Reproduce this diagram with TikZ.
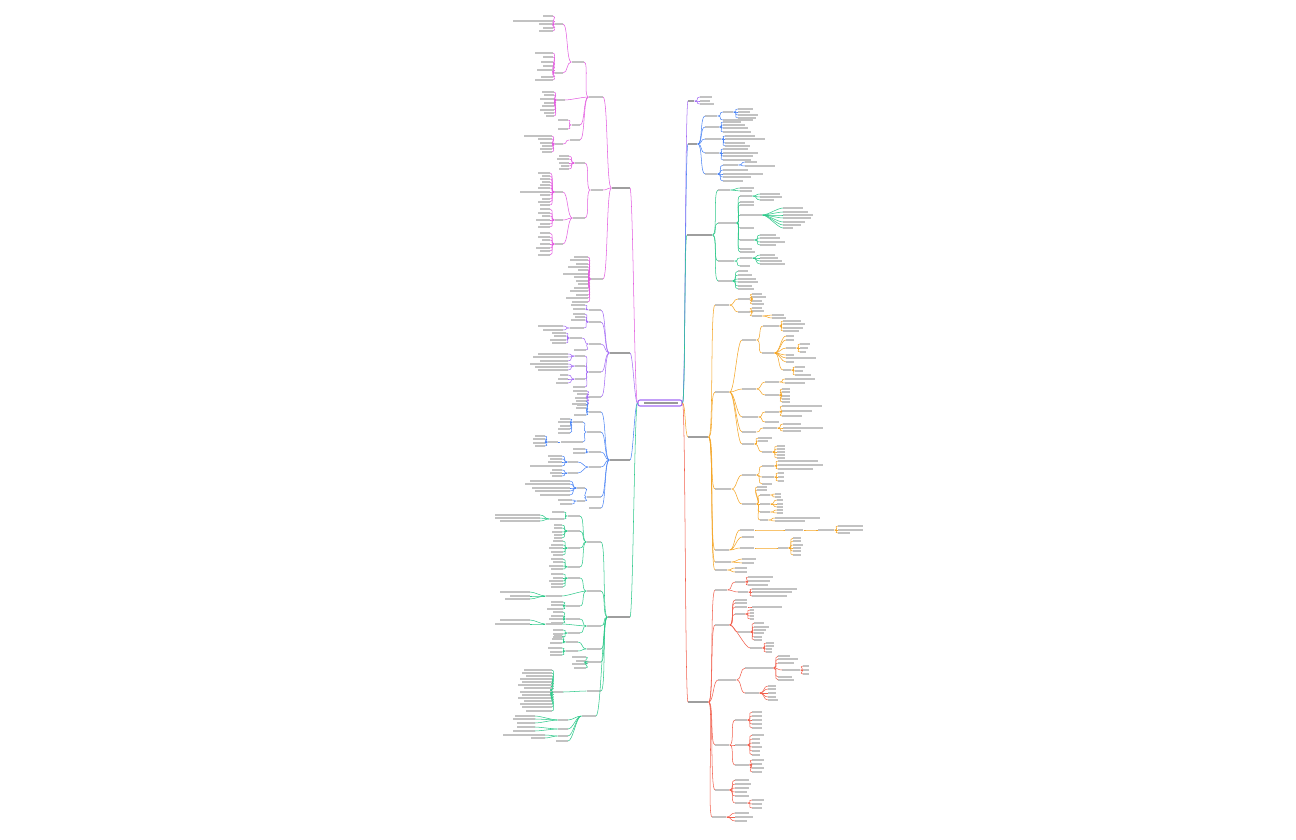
\documentclass[tikz,border=0pt]{standalone}
\usepackage{tikz}
\usetikzlibrary{calc}

\definecolor{pinkC}{HTML}{E35BE0}
\definecolor{violetC}{HTML}{A46BF5}
\definecolor{blueC}{HTML}{4A84F5}
\definecolor{greenC}{HTML}{2DC98A}
\definecolor{orangeC}{HTML}{F5A524}
\definecolor{redC}{HTML}{F2604E}

\tikzset{
  leafr/.style={fill=black!24, draw=none, inner sep=0pt, minimum height=0.26mm, anchor=west},
  leafl/.style={leafr, anchor=east},
  topr/.style={leafr, fill=black!38, minimum height=0.36mm},
  topl/.style={topr, anchor=east},
  link/.style={line width=0.3pt},
  brr/.style={to path={.. controls +(#1,0) and +(-#1,0) .. (\tikztotarget)}},
  brr/.default=5,
  brl/.style={to path={.. controls +(-#1,0) and +(#1,0) .. (\tikztotarget)}},
  brl/.default=5,
}

% 右侧：单个节点 / 一组叶子
\newcommand\rn[5]{%
  \node[leafr, minimum width=#5*0.2mm] (#1) at (#3,#4) {};
  \draw[link] (#2.east) to[brr] (#1.west);}
\newcommand\rtw[4]{%
  \foreach \yy/\ww in {#4}{%
    \node[leafr, minimum width=\ww*0.2mm] (#2\yy) at (#3,\yy) {};
    \draw[link] (#1.east) to[brr] (#2\yy.west);}}
% 左侧
\newcommand\lnn[5]{%
  \node[leafl, minimum width=#5*0.2mm] (#1) at (#3,#4) {};
  \draw[link] (#2.west) to[brl] (#1.east);}
\newcommand\ltw[4]{%
  \foreach \yy/\ww in {#4}{%
    \node[leafl, minimum width=\ww*0.2mm] (#2\yy) at (#3,\yy) {};
    \draw[link] (#1.west) to[brl] (#2\yy.east);}}

\begin{document}
\begin{tikzpicture}[x=0.2mm, y=-0.2mm]
  \path[fill=white, use as bounding box] (0,0) rectangle (1296,840);

  % 中心主题
  \node[draw=violetC, fill=white, line width=0.6pt, rounded corners=0.4mm,
        inner sep=0pt, minimum width=44*0.2mm, minimum height=6*0.2mm] (core) at (660,403) {};
  \node[leafr, fill=black!40, minimum width=34*0.2mm] (coretxt) at (644,403) {};

  %% ---------------- 右侧 ----------------
  \begin{scope}[draw=violetC]
    \node[topr, minimum width=6*0.2mm] (R1) at (688,101) {};
    \draw[link] (core.east) to[brr=3] (R1.west);
    \rtw{R1}{r1l}{700}{97/12,101/10,104/14}
  \end{scope}

  \begin{scope}[draw=blueC]
    \node[topr, minimum width=9*0.2mm] (R2) at (688,144) {};
    \draw[link] (core.east) to[brr=3] (R2.west);
    \rn{r2a}{R2}{705}{116}{12}
    \rn{r2a1}{r2a}{723}{112}{10}
    \rtw{r2a1}{r2ax}{738}{109/15,112/12,115/20,118/18}
    \rtw{r2a}{r2ay}{723}{120/30}
    \rn{r2b}{R2}{705}{127}{14}
    \rtw{r2b}{r2bl}{723}{122/18,125/22,128/25,132/28}
    \rn{r2c}{R2}{705}{139}{16}
    \rtw{r2c}{r2cl}{725}{136/30,139/40,143/20,146/25}
    \rn{r2d}{R2}{705}{153}{14}
    \rtw{r2d}{r2dl}{723}{149/25,153/35,156/30,160/28}
    \rn{r2e}{R2}{705}{174}{12}
    \rn{r2e1}{r2e}{723}{165}{15}
    \rtw{r2e1}{r2ex}{745}{162/12,166/30}
    \rtw{r2e}{r2el}{723}{170/25,174/40,177/28,181/20}
  \end{scope}

  \begin{scope}[draw=greenC]
    \node[topr, minimum width=25*0.2mm] (R3) at (687,235) {};
    \draw[link] (core.east) to[brr=3] (R3.west);
    \rn{r3a}{R3}{718}{190}{12}
    \rtw{r3a}{r3al}{740}{188/14,191/12}
    \rn{r3b}{R3}{718}{223}{18}
    \rn{r3b1}{r3b}{740}{196}{12}
    \rtw{r3b1}{r3bx}{760}{194/20,197/22,200/14}
    \rtw{r3b}{r3by}{740}{202/14,205/14,228/14,249/12,252/15}
    \rn{r3b2}{r3b}{740}{215}{22}
    \rtw{r3b2}{r3bz}{783}{208/20,212/25,215/30,218/28,222/22,225/18,228/10}
    \rn{r3b3}{r3b}{740}{240}{14}
    \rtw{r3b3}{r3bw}{760}{235/16,238/20,242/25,245/16}
    \rn{r3c}{R3}{718}{261}{16}
    \rn{r3c1}{r3c}{740}{258}{12}
    \rtw{r3c1}{r3cx}{760}{255/15,258/18,261/22,264/25}
    \rtw{r3c}{r3cy}{740}{266/10}
    \rn{r3d}{R3}{718}{281}{14}
    \rtw{r3d}{r3dl}{738}{271/10,275/14,279/18,282/20,286/14,289/16}
  \end{scope}

  \begin{scope}[draw=orangeC]
    \node[topr, minimum width=20*0.2mm] (R4) at (688,437) {};
    \draw[link] (core.east) to[brr=3] (R4.west);
    \rn{r4a}{R4}{715}{305}{14}
    \rn{r4a1}{r4a}{738}{299}{12}
    \rtw{r4a1}{r4ax}{752}{294/10,297/14,301/10,304/12}
    \rn{r4a2}{r4a}{738}{312}{12}
    \rtw{r4a2}{r4ay}{752}{308/10,311/12}
    \rn{r4a3}{r4a2}{752}{316}{10}
    \rtw{r4a3}{r4az}{772}{315/12,318/14}
    \rn{r4b}{R4}{715}{392}{14}
    \rn{r4b1}{r4b}{742}{340}{14}
    \rn{r4b1a}{r4b1}{763}{326}{16}
    \rtw{r4b1a}{r4bx}{783}{321/18,324/22,328/20,331/16}
    \rn{r4b1b}{r4b1}{762}{353}{12}
    \rtw{r4b1b}{r4by}{786}{336/8,340/8,355/8,358/30,362/8}
    \rn{r4b1c}{r4b1b}{786}{348}{10}
    \rtw{r4b1c}{r4bz}{800}{344/10,348/8,352/6}
    \rn{r4b1d}{r4b1b}{783}{370}{8}
    \rtw{r4b1d}{r4bw}{795}{367/10,371/8,375/16}
    \rn{r4b2}{r4b}{742}{389}{14}
    \rn{r4b2a}{r4b2}{765}{382}{14}
    \rtw{r4b2a}{r4cx}{785}{379/30,383/20}
    \rn{r4b2b}{r4b2}{765}{395}{14}
    \rtw{r4b2b}{r4cy}{782}{389/8,392/8,396/8,399/8,402/8}
    \rn{r4b3}{r4b}{742}{417}{16}
    \rn{r4b3a}{r4b3}{765}{412}{14}
    \rtw{r4b3a}{r4dx}{782}{406/40,411/30,416/20}
    \rtw{r4b3}{r4dy}{765}{422/14}
    \rn{r4b4}{r4b}{742}{432}{14}
    \rn{r4b4a}{r4b4}{763}{428}{14}
    \rtw{r4b4a}{r4ex}{783}{424/18,428/40,431/18}
    \rn{r4b5}{r4b}{742}{444}{12}
    \rtw{r4b5}{r4fx}{758}{438/14,441/10}
    \rn{r4b5a}{r4b5}{762}{452}{10}
    \rtw{r4b5a}{r4fy}{777}{446/8,449/8,452/8,455/8,458/8}
    \rn{r4c}{R4}{715}{489}{16}
    \rn{r4c1}{r4c}{742}{475}{14}
    \rn{r4c1a}{r4c1}{762}{466}{12}
    \rtw{r4c1a}{r4gx}{778}{461/40,465/45,469/35}
    \rn{r4c1b}{r4c1}{762}{477}{12}
    \rtw{r4c1b}{r4gy}{778}{473/6,477/6,481/6}
    \rtw{r4c1}{r4gz}{762}{484/10}
    \rn{r4c2}{r4c}{742}{504}{14}
    \rtw{r4c2}{r4hx}{757}{487/10,490/10}
    \rn{r4c2a}{r4c2}{760}{495}{10}
    \rtw{r4c2a}{r4hy}{775}{494/6,497/6}
    \rn{r4c2b}{r4c2}{760}{504}{10}
    \rtw{r4c2b}{r4hz}{777}{500/6,504/6,507/6}
    \rn{r4c2c}{r4c2}{760}{512}{10}
    \rtw{r4c2c}{r4hw}{777}{510/6,513/6}
    \rn{r4c2d}{r4c2}{760}{520}{8}
    \rtw{r4c2d}{r4hv}{775}{518/45,521/30}
    \rn{r4d}{R4}{715}{550}{14}
    \rn{r4d1}{r4d}{740}{530}{14}
    \rn{r4d1a}{r4d1}{785}{530}{18}
    \rn{r4d1b}{r4d1a}{818}{530}{16}
    \rtw{r4d1b}{r4ix}{838}{526/25,530/25,533/12}
    \rtw{r4d}{r4iy}{742}{537/12}
    \rn{r4d3}{r4d}{740}{548}{14}
    \rn{r4d3a}{r4d3}{778}{548}{10}
    \rtw{r4d3a}{r4iz}{793}{538/8,541/8,545/10,548/8,551/8,555/8}
    \rn{r4e}{R4}{715}{562}{16}
    \rtw{r4e}{r4jx}{742}{559/14,563/12}
    \rn{r4f}{R4}{715}{570}{12}
    \rtw{r4f}{r4jy}{735}{568/12,572/12}
  \end{scope}

  \begin{scope}[draw=redC]
    \node[topr, minimum width=20*0.2mm] (R5) at (688,702) {};
    \draw[link] (core.east) to[brr=3] (R5.west);
    \rn{r5a}{R5}{715}{590}{12}
    \rn{r5a1}{r5a}{735}{582}{10}
    \rtw{r5a1}{r5ax}{748}{577/25,581/22,585/20}
    \rn{r5a2}{r5a}{738}{592}{10}
    \rtw{r5a2}{r5ay}{752}{589/45,592/40,596/35}
    \rn{r5b}{R5}{715}{625}{14}
    \rtw{r5b}{r5bx}{735}{600/12,603/12}
    \rn{r5b1}{r5b}{735}{607}{12}
    \rtw{r5b1}{r5by}{752}{607/30}
    \rn{r5b2}{r5b}{735}{614}{10}
    \rtw{r5b2}{r5bz}{750}{610/4,613/4,616/4,619/4}
    \rn{r5b3}{r5b}{738}{632}{12}
    \rtw{r5b3}{r5bw}{754}{623/10,627/15,630/12,633/10,637/8,640/8}
    \rn{r5b4}{r5b}{750}{648}{12}
    \rtw{r5b4}{r5bv}{766}{643/8,646/8,649/6,652/6}
    \rn{r5c}{R5}{718}{680}{18}
    \rn{r5c1}{r5c}{745}{668}{28}
    \rtw{r5c1}{r5cx}{778}{656/12,659/20,663/16,677/14,680/16}
    \rn{r5c1a}{r5c1}{782}{670}{18}
    \rtw{r5c1a}{r5cy}{803}{666/6,670/6,674/6}
    \rn{r5c2}{r5c}{745}{693}{14}
    \rtw{r5c2}{r5cz}{768}{686/8,689/8,693/8,697/8,700/10}
    \rn{r5d}{R5}{715}{745}{14}
    \rn{r5d1}{r5d}{735}{720}{12}
    \rtw{r5d1}{r5dx}{752}{712/10,716/10,720/10,724/10,728/10}
    \rn{r5d2}{r5d}{735}{745}{12}
    \rtw{r5d2}{r5dy}{752}{735/12,739/8,743/8,747/10,751/8,755/8}
    \rn{r5d3}{r5d}{735}{765}{14}
    \rtw{r5d3}{r5dz}{752}{760/12,764/10,768/12,772/10}
    \rn{r5e}{R5}{715}{790}{14}
    \rtw{r5e}{r5ex}{735}{780/14,784/16,788/14,792/12,796/14}
    \rn{r5e1}{r5e}{735}{803}{12}
    \rtw{r5e1}{r5ey}{752}{800/12,804/10,808/10}
    \rn{r5f}{R5}{712}{817}{14}
    \rtw{r5f}{r5fx}{735}{813/14,817/18,821/12}
  \end{scope}

  %% ---------------- 左侧 ----------------
  \begin{scope}[draw=pinkC]
    \node[topl, minimum width=18*0.2mm] (L1) at (630,188) {};
    \draw[link] (core.west) to[brl=3] (L1.east);
    \lnn{l1a}{L1}{603}{97}{14}
    \lnn{l1a1}{l1a}{584}{62}{12}
    \lnn{l1a1a}{l1a1}{563}{24}{8}
    \ltw{l1a1a}{l1ax}{553}{16/10,21/40,24/14,28/10,31/14}
    \lnn{l1a1b}{l1a1}{563}{73}{8}
    \ltw{l1a1b}{l1ay}{553}{53/18,57/10,62/12,66/10,70/16,77/12,80/18}
    \lnn{l1a2}{l1a}{565}{100}{8}
    \ltw{l1a2}{l1az}{554}{92/12,95/10,99/14,103/10,106/12,110/14,113/10,116/8}
    \lnn{l1a3}{l1a}{580}{125}{8}
    \ltw{l1a3}{l1aw}{568}{120/10,129/10}
    \lnn{l1a4}{l1a}{580}{140}{10}
    \lnn{l1a4a}{l1a4}{563}{144}{8}
    \ltw{l1a4a}{l1av}{552}{136/28,139/14,143/12,146/10,149/12,152/10}
    \lnn{l1b}{L1}{603}{190}{12}
    \lnn{l1b1}{l1b}{585}{163}{10}
    \ltw{l1b1}{l1bx}{569}{156/10,159/12,163/10,166/8,169/10}
    \lnn{l1b2}{l1b}{585}{218}{12}
    \lnn{l1b2a}{l1b2}{563}{192}{8}
    \ltw{l1b2a}{l1by}{550}{173/12,176/8,179/10,182/8,185/10,188/12,192/30,195/10,199/8,202/12,205/10}
    \lnn{l1b2b}{l1b2}{563}{220}{8}
    \ltw{l1b2b}{l1bz}{550}{209/10,213/12,216/8,220/14,224/10,227/12}
    \lnn{l1b2c}{l1b2}{563}{244}{8}
    \ltw{l1b2c}{l1bw}{550}{233/10,237/12,240/8,244/10,248/14,251/10,255/12}
    \lnn{l1c}{L1}{603}{279}{12}
    \ltw{l1c}{l1cx}{588}{257/14,260/18,264/12,267/20,270/10,274/25,277/14,281/12,284/10,288/14,291/18,295/12,298/22,302/16}
  \end{scope}

  \begin{scope}[draw=violetC]
    \node[topl, minimum width=20*0.2mm] (L2) at (630,353) {};
    \draw[link] (core.west) to[brl=3] (L2.east);
    \lnn{l2a}{L2}{601}{310}{12}
    \ltw{l2a}{l2ax}{585}{305/14,309/12}
    \lnn{l2b}{L2}{601}{322}{12}
    \ltw{l2b}{l2bx}{585}{314/12,317/10,320/14}
    \lnn{l2b1}{l2b}{584}{328}{14}
    \ltw{l2b1}{l2by}{563}{326/25,330/20}
    \lnn{l2c}{L2}{601}{344}{12}
    \lnn{l2c1}{l2c}{582}{338}{12}
    \ltw{l2c1}{l2cx}{566}{333/14,336/12,340/16,343/14}
    \ltw{l2c}{l2cy}{586}{350/12}
    \lnn{l2d}{L2}{601}{372}{12}
    \lnn{l2d1}{l2d}{585}{356}{10}
    \ltw{l2d1}{l2dx}{568}{354/30,357/35,361/28}
    \lnn{l2d2}{l2d}{585}{366}{10}
    \ltw{l2d2}{l2dy}{568}{364/38,367/33,370/30}
    \lnn{l2d3}{l2d}{585}{379}{10}
    \ltw{l2d3}{l2dz}{568}{375/8,379/10,383/12}
    \ltw{l2d}{l2dw}{585}{387/12}
    \lnn{l2e}{L2}{601}{397}{12}
    \ltw{l2e}{l2ex}{587}{391/14,394/10,398/12,401/10,405/10}
  \end{scope}

  \begin{scope}[draw=blueC]
    \node[topl, minimum width=20*0.2mm] (L3) at (630,460) {};
    \draw[link] (core.west) to[brl=3] (L3.east);
    \lnn{l3a}{L3}{601}{412}{12}
    \ltw{l3a}{l3ax}{586}{401/10,404/14,408/10,415/12}
    \lnn{l3b}{L3}{601}{432}{14}
    \lnn{l3b1}{l3b}{583}{422}{10}
    \ltw{l3b1}{l3bx}{570}{419/10,422/12,426/10,429/12,433/12}
    \lnn{l3b2}{l3b}{583}{442}{22}
    \lnn{l3b2a}{l3b2}{558}{442}{10}
    \ltw{l3b2a}{l3by}{545}{436/10,439/12,443/12,446/10}
    \lnn{l3c}{L3}{601}{452}{12}
    \ltw{l3c}{l3cx}{585}{449/12,453/12}
    \lnn{l3d}{L3}{601}{467}{12}
    \lnn{l3d1}{l3d}{578}{462}{10}
    \ltw{l3d1}{l3dx}{562}{456/14,459/12,462/14,466/32}
    \lnn{l3d2}{l3d}{578}{473}{10}
    \ltw{l3d2}{l3dy}{562}{470/10,473/12,476/10}
    \lnn{l3e}{L3}{601}{497}{14}
    \lnn{l3e1}{l3e}{585}{488}{8}
    \ltw{l3e1}{l3ex}{570}{481/40,484/45,488/38,491/35,495/30}
    \lnn{l3e2}{l3e}{585}{501}{8}
    \ltw{l3e2}{l3ey}{572}{500/14,504/12}
    \lnn{l3f}{L3}{601}{508}{12}
  \end{scope}

  \begin{scope}[draw=greenC]
    \node[topl, minimum width=22*0.2mm] (L4) at (630,617) {};
    \draw[link] (core.west) to[brl=3] (L4.east);
    \lnn{l4a}{L4}{601}{542}{14}
    \lnn{l4a1}{l4a}{580}{516}{12}
    \ltw{l4a1}{l4ax}{564}{512/12}
    \lnn{l4a1b}{l4a1}{564}{519}{14}
    \ltw{l4a1b}{l4ay}{540}{515/45,518/45,521/40}
    \lnn{l4a2}{l4a}{580}{531}{12}
    \ltw{l4a2}{l4az}{562}{525/8,528/8,532/10,535/8,538/8}
    \lnn{l4a3}{l4a}{580}{548}{12}
    \ltw{l4a3}{l4aw}{563}{541/10,545/12,548/14,552/12,555/10}
    \lnn{l4a4}{l4a}{580}{567}{12}
    \ltw{l4a4}{l4av}{563}{559/12,562/10,566/14,569/12}
    \lnn{l4b}{L4}{601}{591}{14}
    \lnn{l4b1}{l4b}{580}{578}{12}
    \ltw{l4b1}{l4bx}{563}{574/12,578/10,581/14,584/12,587/12}
    \lnn{l4b3}{l4b}{562}{596}{16}
    \ltw{l4b3}{l4by}{530}{592/30,596/20,599/25}
    \lnn{l4b4}{l4b}{580}{606}{14}
    \ltw{l4b4}{l4bz}{563}{602/12,605/12,609/16}
    \lnn{l4c}{L4}{601}{626}{14}
    \lnn{l4c1}{l4c}{580}{619}{14}
    \ltw{l4c1}{l4cx}{563}{612/10,616/12,619/14,623/12}
    \lnn{l4c2}{l4c}{562}{624}{16}
    \ltw{l4c2}{l4cy}{530}{620/30,624/35}
    \lnn{l4c3}{l4c}{580}{633}{12}
    \ltw{l4c3}{l4cz}{563}{630/10,634/10,637/10}
    \lnn{l4d}{L4}{601}{649}{14}
    \lnn{l4d1}{l4d}{578}{642}{12}
    \ltw{l4d1}{l4dx}{562}{636/8,639/10,643/12}
    \lnn{l4d2}{l4d}{578}{651}{12}
    \ltw{l4d2}{l4dy}{562}{648/14,652/12,655/12}
    \lnn{l4e}{L4}{601}{662}{14}
    \ltw{l4e}{l4ex}{586}{657/14,661/10,664/14,668/12}
    \lnn{l4f}{L4}{601}{691}{14}
    \lnn{l4f1}{l4f}{563}{692}{10}
    \ltw{l4f1}{l4fx}{552}{670/28,673/30,676/26,679/32,682/30,685/34,688/28,692/32,695/30,698/34,701/28,704/32,707/30,711/26}
    \lnn{l4g}{L4}{596}{716}{14}
    \lnn{l4g1}{l4g}{568}{720}{10}
    \ltw{l4g1}{l4gx}{535}{716/20,719/22,723/18}
    \lnn{l4g2}{l4g}{568}{729}{10}
    \ltw{l4g2}{l4gy}{535}{727/18,731/22}
    \lnn{l4g3}{l4g}{568}{736}{10}
    \ltw{l4g3}{l4gz}{545}{735/42,738/14}
    \ltw{l4g}{l4gw}{568}{741/12}
  \end{scope}
\end{tikzpicture}
\end{document}
